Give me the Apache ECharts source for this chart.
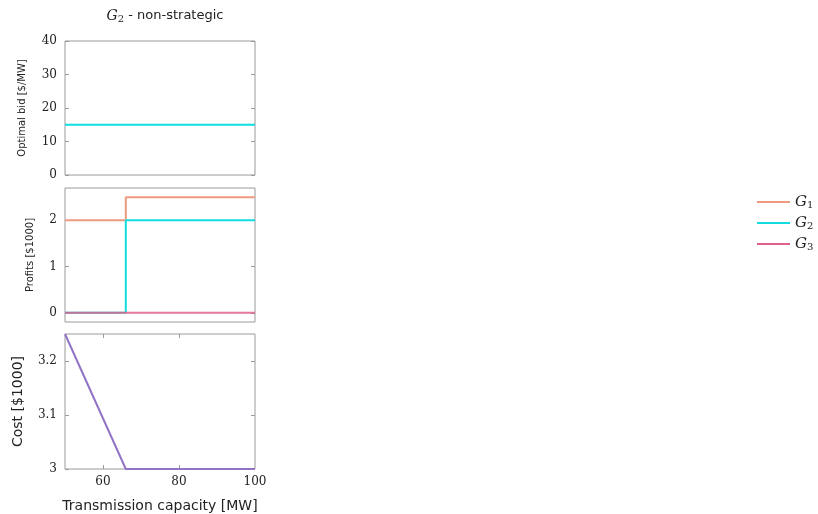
<!DOCTYPE html>
<html>
<head>
<meta charset="utf-8">
<script src="https://cdn.jsdelivr.net/npm/echarts@6/dist/echarts.min.js"></script>
<style>html,body{margin:0;padding:0;background:#fff}#c{width:818px;height:514px}</style>
</head>
<body>
<div id="c"></div>
<script>
// Data
const capacity = [50, 66, 66, 100];          // Transmission capacity [MW]
const bidG2 = [15, 15, 15, 15];               // Optimal bid [$/MW]
const profitG1 = [2, 2, 2.5, 2.5];            // Profits [$1000]
const profitG2 = [0, 0, 2, 2];
const profitG3 = [0, 0, 0, 0];
const cost = [3.25, 3.0, 3.0, 3.0];           // Cost [$1000]
const xTicks = [60, 80, 100];
const bidTicks = [0, 10, 20, 30, 40];
const profitTicks = [0, 1, 2];
const costTicks = [3, 3.1, 3.2];

const colG1 = '#EE9A80', colG2 = '#12DCE0', colG3 = '#E0608A', colCost = '#9274C6';
const frame = '#9a9a9a';
const serif = 'DejaVu Serif';
const sans = 'DejaVu Sans';

function pairs(xs, ys) { return xs.map((x, i) => [x, ys[i]]); }
function fmt(v) { return String(Math.round(v * 100) / 100); }

const L = 65, W = 190;
const grids = [
  { left: L, width: W, top: 41, height: 134 },
  { left: L, width: W, top: 188, height: 134 },
  { left: L, width: W, top: 334, height: 135 }
].map(g => Object.assign(g, { show: true, borderColor: frame, borderWidth: 1, backgroundColor: 'transparent' }));

const ranges = [
  { min: 0, max: 40, ticks: bidTicks, name: 'Optimal bid [$/MW]', nameSize: 10, gap: 38 },
  { min: -0.2, max: 2.7, ticks: profitTicks, name: 'Profits [$1000]', nameSize: 10, gap: 30 },
  { min: 3, max: 3.25, ticks: costTicks, name: 'Cost [$1000]', nameSize: 14, gap: 40 }
];

const yAxes = [];
ranges.forEach((r, i) => {
  yAxes.push({
    type: 'value', gridIndex: i, min: r.min, max: r.max, position: 'left',
    name: r.name, nameLocation: 'middle', nameGap: r.gap,
    nameTextStyle: { fontFamily: sans, fontSize: r.nameSize, color: '#222' },
    axisLine: { show: false },
    splitLine: { show: false },
    axisTick: { show: true, inside: true, length: 4, lineStyle: { color: frame }, customValues: r.ticks },
    axisLabel: { show: true, customValues: r.ticks, formatter: fmt, fontFamily: serif, fontSize: 12, color: '#222', margin: 8 }
  });
  yAxes.push({
    type: 'value', gridIndex: i, min: r.min, max: r.max, position: 'right',
    axisLine: { show: false }, splitLine: { show: false },
    axisTick: { show: true, inside: true, length: 4, lineStyle: { color: frame }, customValues: r.ticks },
    axisLabel: { show: false }
  });
});

const xAxes = [
  { type: 'value', gridIndex: 0, min: 50, max: 100, show: false },
  { type: 'value', gridIndex: 1, min: 50, max: 100, show: false },
  {
    type: 'value', gridIndex: 2, min: 50, max: 100, position: 'bottom',
    name: 'Transmission capacity [MW]', nameLocation: 'middle', nameGap: 30,
    nameTextStyle: { fontFamily: sans, fontSize: 14, color: '#222' },
    axisLine: { show: false }, splitLine: { show: false },
    axisTick: { show: true, inside: true, length: 4, lineStyle: { color: frame }, customValues: [60, 80] },
    axisLabel: { show: true, customValues: xTicks, fontFamily: serif, fontSize: 12, color: '#222', margin: 7 }
  },
  {
    type: 'value', gridIndex: 2, min: 50, max: 100, position: 'top',
    axisLine: { show: false }, splitLine: { show: false },
    axisTick: { show: true, inside: true, length: 4, lineStyle: { color: frame }, customValues: [60, 80] },
    axisLabel: { show: false }
  }
];

function line(name, xi, yi, data, color, opacity) {
  return {
    name: name, type: 'line', xAxisIndex: xi, yAxisIndex: yi, data: data,
    showSymbol: false, symbol: 'none', animation: false, silent: true,
    itemStyle: { color: color },
    lineStyle: { color: color, width: 2, opacity: opacity == null ? 1 : opacity }
  };
}

const legendRich = {
  g: { fontFamily: serif, fontStyle: 'italic', fontSize: 15, color: '#222' },
  s: { fontFamily: serif, fontSize: 10, color: '#222', padding: [6, 0, 0, 0] }
};

const option = {
  animation: false,
  backgroundColor: '#fff',
  title: {
    text: '{g|G}{s|2}{t| - non-strategic}',
    left: 160, textAlign: 'center', top: 3,
    textStyle: {
      fontWeight: 'normal',
      rich: {
        g: { fontFamily: serif, fontStyle: 'italic', fontWeight: 'normal', fontSize: 14, color: '#222' },
        s: { fontFamily: serif, fontWeight: 'normal', fontSize: 10, color: '#222', padding: [6, 0, 0, 0] },
        t: { fontFamily: sans, fontWeight: 'normal', fontSize: 13, color: '#222' }
      }
    }
  },
  legend: {
    data: ['G1', 'G2', 'G3'],
    orient: 'vertical', left: 752, top: 189,
    itemWidth: 33, itemHeight: 2, itemGap: 5, icon: 'rect',
    formatter: n => '{g|G}{s|' + n.slice(1) + '}',
    textStyle: { rich: legendRich, lineHeight: 16 }
  },
  grid: grids,
  xAxis: xAxes,
  yAxis: yAxes,
  series: [
    line('G2', 0, 0, pairs(capacity, bidG2), colG2),
    line('G1', 1, 2, pairs(capacity, profitG1), colG1),
    line('G2', 1, 2, pairs(capacity, profitG2), colG2),
    line('G3', 1, 2, pairs(capacity, profitG3), colG3, 0.85),
    line('Cost', 2, 4, pairs(capacity, cost), colCost)
  ]
};

echarts.init(document.getElementById('c'), null, { renderer: 'canvas' }).setOption(option);
</script>
</body>
</html>
